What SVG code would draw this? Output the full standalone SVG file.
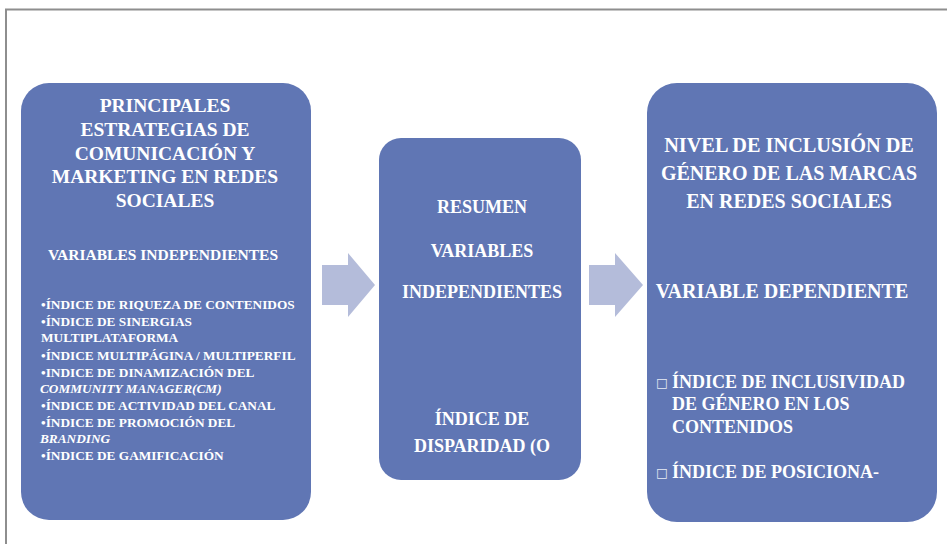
<svg xmlns="http://www.w3.org/2000/svg" width="947" height="544" viewBox="0 0 947 544">
<style>
.box{fill:#6076B4}
.arr{fill:#B4BCDA}
text{font-family:"Liberation Serif","Times New Roman",serif;font-weight:bold;fill:#FFFFFF}
.h{font-size:19.5px;text-anchor:middle}
.s{font-size:15.5px;text-anchor:middle}
.m{font-size:18px;text-anchor:middle}
.b{font-size:13.3px}
.r{font-size:18px}
.sq{font-family:"DejaVu Sans",sans-serif;font-weight:normal;font-size:12.5px;fill:#E8ECF5}
</style>
<rect x="0" y="0" width="947" height="544" fill="#FFFFFF"/>
<path d="M6,544 V9.5 H947" fill="none" stroke="#8E8E8E" stroke-width="2"/>
<g id="connectors">
<polygon class="arr" points="322,265 348,265 348,253 375,285 348,317 348,305 322,305"/>
<polygon class="arr" points="589,265 615,265 615,253 643,285 615,317 615,305 589,305"/>
</g>
<g id="node-left">
<rect class="box" x="21" y="83" width="290" height="437" rx="28" ry="28"/>
<text class="h" x="165" y="112">PRINCIPALES</text>
<text class="h" x="165" y="136">ESTRATEGIAS DE</text>
<text class="h" x="165" y="160">COMUNICACIÓN Y</text>
<text class="h" x="165" y="183">MARKETING EN REDES</text>
<text class="h" x="165" y="207">SOCIALES</text>
<text class="s" x="163" y="260">VARIABLES INDEPENDIENTES</text>
<text class="b" x="41" y="309">•ÍNDICE DE RIQUEZA DE CONTENIDOS</text>
<text class="b" x="41" y="326">•ÍNDICE DE SINERGIAS</text>
<text class="b" x="41" y="342"> MULTIPLATAFORMA</text>
<text class="b" x="41" y="360">•ÍNDICE MULTIPÁGINA / MULTIPERFIL</text>
<text class="b" x="41" y="377">•INDICE DE DINAMIZACIÓN DEL</text>
<text class="b" x="40" y="393" font-style="italic"> COMMUNITY MANAGER(CM)</text>
<text class="b" x="41" y="410">•ÍNDICE DE ACTIVIDAD DEL CANAL</text>
<text class="b" x="41" y="427">•ÍNDICE DE PROMOCIÓN DEL</text>
<text class="b" x="40" y="443" font-style="italic"> BRANDING</text>
<text class="b" x="41" y="460">•ÍNDICE DE GAMIFICACIÓN</text>
</g>
<g id="node-middle">
<rect class="box" x="379" y="138" width="202" height="342" rx="22" ry="22"/>
<text class="m" x="482" y="213">RESUMEN</text>
<text class="m" x="482" y="257">VARIABLES</text>
<text class="m" x="482" y="298">INDEPENDIENTES</text>
<text class="m" x="482" y="425">ÍNDICE DE</text>
<text class="m" x="482" y="452">DISPARIDAD (O</text>
</g>
<g id="node-right">
<rect class="box" x="647" y="83" width="290" height="439" rx="30" ry="30"/>
<text class="h" x="789" y="152" style="font-size:20.3px">NIVEL DE INCLUSIÓN DE</text>
<text class="h" x="789" y="180" style="font-size:20px">GÉNERO DE LAS MARCAS</text>
<text class="h" x="789" y="208" style="font-size:20px">EN REDES SOCIALES</text>
<text class="h" x="782" y="298" style="font-size:20px">VARIABLE DEPENDIENTE</text>
<text class="sq" x="656" y="387">□</text>
<text class="r" x="672" y="388">ÍNDICE DE INCLUSIVIDAD</text>
<text class="r" x="672" y="410">DE GÉNERO EN LOS</text>
<text class="r" x="672" y="433">CONTENIDOS</text>
<text class="sq" x="656" y="477">□</text>
<text class="r" x="672" y="478">ÍNDICE DE POSICIONA-</text>
</g>
</svg>
